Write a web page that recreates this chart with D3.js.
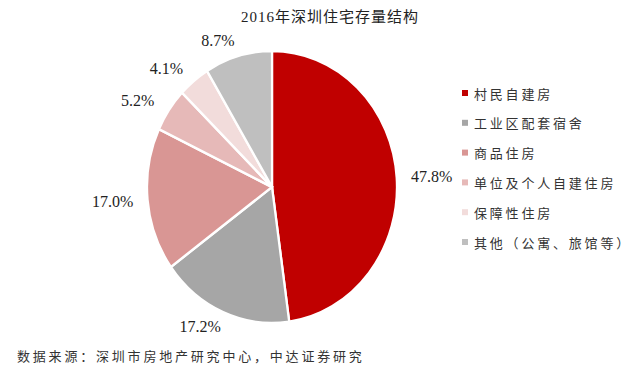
<!DOCTYPE html>
<html><head><meta charset="utf-8">
<script src="https://cdn.jsdelivr.net/npm/d3@7"></script>
<style>
html,body{margin:0;padding:0;background:#fff;}
svg{display:block;}
</style></head>
<body>
<script>
const title = "2016年深圳住宅存量结构";
const categories = ["村民自建房","工业区配套宿舍","商品住房","单位及个人自建住房","保障性住房","其他（公寓、旅馆等）"];
const values = [47.8, 17.2, 17.0, 5.2, 4.1, 8.7];
const colors = ["#C00000","#A6A6A6","#D99694","#E6B9B8","#F2DCDB","#BFBFBF"];
const source = "数据来源：深圳市房地产研究中心，中达证券研究";

const W = 640, H = 379;
const cx = 272, cy = 187, rx = 125, ry = 136;

const svg = d3.select("body").append("svg").attr("width", W).attr("height", H);

svg.append("text").attr("x", 330).attr("y", 17)
  .attr("text-anchor","middle").attr("dominant-baseline","central")
  .attr("font-family","'Liberation Serif','Noto Sans CJK SC'")
  .attr("font-size",15).attr("letter-spacing",1).attr("fill","#222")
  .text(title);

const pie = d3.pie().sort(null).value(d => d)(values);
const arc = d3.arc().innerRadius(0).outerRadius(ry);

const g = svg.append("g").attr("transform", `translate(${cx},${cy}) scale(${rx/ry},1)`);
g.selectAll("path").data(pie).join("path")
  .attr("d", arc)
  .attr("fill", (d,i) => colors[i])
  .attr("stroke", "#fff").attr("stroke-width", 2.5);

// labels outside
svg.selectAll("text.lbl").data(pie).join("text").attr("class","lbl")
  .attr("x", d => { const a=(d.startAngle+d.endAngle)/2; const s=Math.sin(a); return cx + (rx+20)*s + 15*Math.sign(s); })
  .attr("y", d => { const a=(d.startAngle+d.endAngle)/2; return cy - (ry+16)*Math.cos(a); })
  .attr("text-anchor","middle").attr("dominant-baseline","central")
  .attr("font-family","'Liberation Serif', serif").attr("font-size",16).attr("fill","#222")
  .text(d => d.data.toFixed(1) + "%");

// legend
const leg = svg.append("g");
const ly = d3.scalePoint().domain(categories).range([93, 242]);
leg.selectAll("rect").data(categories).join("rect")
  .attr("x", 462).attr("y", d => ly(d) - 3).attr("width", 6).attr("height", 6)
  .attr("fill", (d,i) => colors[i]);
leg.selectAll("text").data(categories).join("text")
  .attr("x", 474).attr("y", d => ly(d))
  .attr("dominant-baseline","central")
  .attr("font-family","'Noto Sans CJK SC'").attr("font-size",13).attr("letter-spacing",2.8)
  .attr("fill","#333")
  .text(d => d);

svg.append("text").attr("x", 17).attr("y", 355)
  .attr("dominant-baseline","central")
  .attr("font-family","'Noto Sans CJK SC'").attr("font-size",13).attr("letter-spacing",2.8)
  .attr("fill","#333").text(source);
</script>
</body></html>
